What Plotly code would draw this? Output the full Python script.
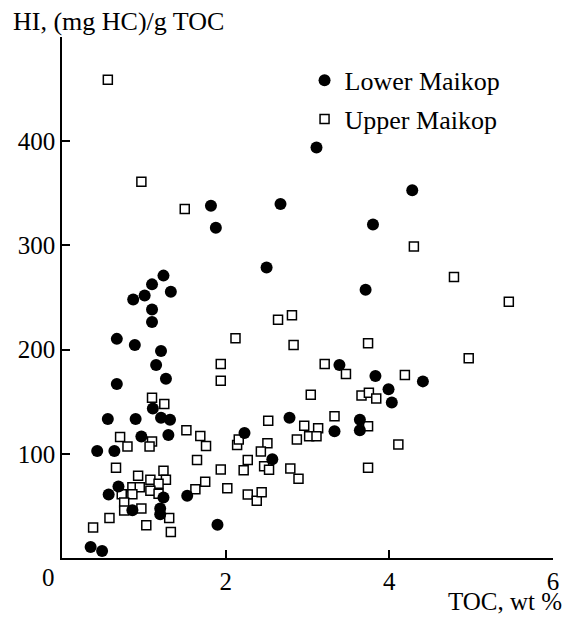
import plotly.graph_objects as go

# Lower Maikop (filled circles)
lower_toc = [0.35, 0.49, 0.43, 0.64, 0.56, 0.57, 0.69, 0.86, 0.67, 0.67, 0.89, 0.87, 1.01, 1.10, 1.24,
             1.33, 1.10, 1.10, 1.21, 1.15, 1.27, 1.11, 0.90, 1.21, 1.32, 0.97, 1.30, 1.24, 1.20, 1.20,
             1.53, 1.90, 1.82, 1.88, 2.67, 2.50, 3.11, 4.28, 3.80, 3.71, 2.23, 2.57, 2.78, 3.39, 3.83,
             4.41, 3.99, 4.03, 3.64, 3.64, 3.33]
lower_hi = [10.6, 6.7, 102.7, 102.7, 133.5, 61, 68.7, 45.9, 167, 210.3, 204.5, 248, 252, 262.6, 271,
            255.6, 238.5, 226.4, 198.7, 185.3, 172, 143.5, 133.5, 134.5, 132.6, 116.6, 118.1, 58, 47.5, 42,
            59.7, 31.8, 338, 317, 339.7, 278.7, 394, 352.9, 320, 257.5, 120, 94.7, 134.5, 185.3, 174.7,
            169.5, 162, 149.3, 132.6, 122.6, 121.7]

# Upper Maikop (open squares)
upper_toc = [0.56, 0.97, 1.50, 2.12, 2.64, 2.81, 2.83, 4.30, 4.79, 5.46, 3.74, 4.97, 3.21, 3.47, 4.19,
             3.04, 3.66, 3.75, 3.84, 3.33, 3.74, 2.96, 3.13, 2.87, 3.02, 3.11, 4.11, 2.79, 2.89, 3.74,
             1.94, 1.94, 1.10, 1.25, 1.52, 1.69, 1.76, 0.71, 0.80, 1.10, 1.07, 0.66, 0.93, 1.24, 1.27,
             1.08, 1.18, 0.86, 0.95, 0.73, 0.86, 1.08, 1.18, 0.76, 0.76, 0.97, 0.58, 0.38, 1.03, 1.31,
             1.33, 1.65, 1.75, 1.63, 1.94, 2.02, 2.14, 2.16, 2.22, 2.27, 2.27, 2.38, 2.44, 2.52, 2.51,
             2.43, 2.47, 2.53]
upper_hi = [459, 361, 335, 211, 228.6, 233, 204.5, 299, 269.7, 246, 206, 191.7, 186.2, 176.6, 175.6,
            156.6, 156, 158.6, 153, 136, 126.5, 127, 124.6, 113.7, 116.9, 116.9, 109, 86, 76, 86.7,
            186.2, 170, 153.8, 147.7, 122.6, 117.2, 107.5, 116.2, 107, 111.8, 107, 86.7, 79, 83.8, 75.1,
            75.1, 71.3, 68, 68, 61.3, 61.3, 64.5, 61.7, 53.3, 45.6, 47.5, 38.5, 29.2, 31.4, 38.5,
            25, 94, 73.2, 66, 85, 67, 108.5, 113.7, 84.1, 94, 61, 54.9, 63.2, 131.6, 110.1,
            102.1, 88, 84.8]

x_ticks = [0, 2, 4, 6]
x_ticktext = ["", "2", "4", "6"]
y_ticks = [100, 200, 300, 400, 500]
y_ticktext = ["100", "200", "300", "400", ""]

FONT = "Liberation Serif"

fig = go.Figure()
fig.add_trace(go.Scatter(
    x=upper_toc, y=upper_hi, mode="markers", name="Upper Maikop",
    legendrank=2, legendgroup="u",
    marker=dict(symbol="square", size=9, color="white", line=dict(color="black", width=1.5)),
))
fig.add_trace(go.Scatter(
    x=lower_toc, y=lower_hi, mode="markers", name="Lower Maikop",
    legendrank=1, legendgroup="l",
    marker=dict(symbol="circle", size=12, color="black", line=dict(color="black", width=0)),
))

fig.update_layout(
    width=570, height=619,
    margin=dict(l=62, r=11, t=37, b=61),
    paper_bgcolor="white", plot_bgcolor="white",
    font=dict(family=FONT, size=25, color="black"),
    showlegend=True,
    legend=dict(x=0.494, y=0.962, xanchor="left", yanchor="top",
                bgcolor="rgba(0,0,0,0)", borderwidth=0,
                font=dict(family=FONT, size=26, color="black"),
                tracegroupgap=2, itemsizing="trace"),
    xaxis=dict(range=[0, 6], tickvals=x_ticks, ticktext=x_ticktext,
               showline=True, linecolor="black", linewidth=1.5,
               ticks="inside", ticklen=8, tickwidth=1.5, tickcolor="black",
               showgrid=False, zeroline=False,
               tickfont=dict(family=FONT, size=25, color="black")),
    yaxis=dict(range=[0, 500], tickvals=y_ticks, ticktext=y_ticktext,
               showline=True, linecolor="black", linewidth=1.5,
               ticks="inside", ticklen=8, tickwidth=1.5, tickcolor="black",
               showgrid=False, zeroline=False,
               tickfont=dict(family=FONT, size=25, color="black")),
    annotations=[
        dict(text="HI, (mg HC)/g TOC", xref="paper", yref="paper", x=-0.103, y=1.03,
             xanchor="left", yanchor="middle", showarrow=False,
             font=dict(family=FONT, size=26, color="black")),
        dict(text="TOC, wt %", xref="paper", yref="paper", x=1.022, y=-0.1135,
             xanchor="right", yanchor="bottom", showarrow=False,
             font=dict(family=FONT, size=25, color="black")),
        dict(text="0", xref="paper", yref="paper", x=-0.028, y=-0.037,
             xanchor="center", yanchor="middle", showarrow=False,
             font=dict(family=FONT, size=25, color="black")),
    ],
)

fig.write_html("out.html", config={"displayModeBar": False},
               post_script="document.body.style.margin='0px';document.body.style.overflow='hidden';")
